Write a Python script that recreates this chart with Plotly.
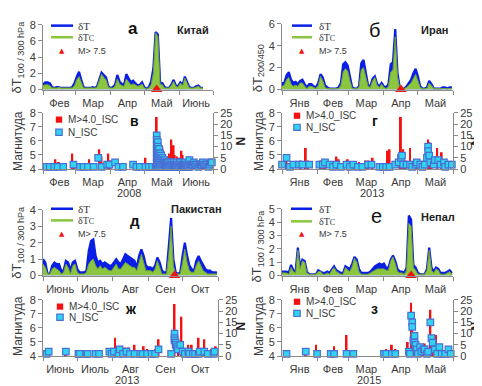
import pandas as pd
import plotly.graph_objects as go

W, H = 482, 386
BLUE = "#0a1fe6"
GREEN = "#8cc540"
GREEN_EDGE = "#6f9f3a"
RED = "#f21212"
CYAN = "#30d4f0"
CYAN_EDGE = "#4a6fd4"
AXC = "#8a8a8a"
TXT = "#3a3a3a"
FONT = "Liberation Sans, Arial, sans-serif"

# ---------------- Panel а : Китай 2008 (values every 2 days) ----------------
A_START, A_END, A_QUAKE = "2008-02-01", "2008-07-01", "2008-05-12"
A_MONTHS = ["Фев", "Мар", "Апр", "Май", "Июнь"]
A_DT = [0.6,0.9,0.9,0.8,0.3,0.2,0.3,0.3,0.2,0.2,0.2,0.2,0.2,0.3,0.8,1.6,2.2,1.2,0.3,0.2,
        0.2,0.2,0.3,0.2,0.4,1.2,2.1,1.8,1.5,0.4,0.2,0.3,0.6,1.8,1.0,0.7,0.6,1.9,1.3,0.9,
        1.1,0.8,0.5,0.6,0.9,0.3,0.1,0.3,1.0,2.6,7.1,6.8,0.9,0.8,0.3,0.2,0.2,0.6,1.2,0.5,
        0.4,0.9,0.6,1.6,0.9,0.3,0.2,0.2,0.4,0.5,0.2,0.2]
A_DTC = [0.5,0.6,0.6,0.5,0.2,0.2,0.2,0.3,0.2,0.2,0.2,0.2,0.2,0.2,0.5,1.2,1.6,0.8,0.2,0.2,
         0.2,0.2,0.2,0.2,0.3,1.0,1.9,1.5,1.2,0.3,0.2,0.2,0.4,1.3,0.7,0.5,0.4,1.3,0.9,0.6,
         0.7,0.6,0.4,0.5,0.7,0.2,0.1,0.2,0.6,2.0,7.0,6.5,0.7,0.6,0.2,0.2,0.2,0.5,1.0,0.4,
         0.3,0.8,0.5,1.4,0.7,0.2,0.2,0.2,0.3,0.4,0.2,0.2]

# ---------------- Panel б : Иран 2013 ----------------
B_START, B_END, B_QUAKE = "2013-01-01", "2013-06-01", "2013-04-16"
B_MONTHS = ["Янв", "Фев", "Мар", "Апр", "Май"]
B_DT = [0.6,0.6,1.3,1.6,0.9,0.6,0.7,0.5,0.8,0.9,0.5,0.2,0.5,0.5,0.3,0.2,0.6,1.4,1.1,0.4,
        0.2,0.1,0.1,0.1,0.1,0.2,0.6,2.3,2.5,2.2,1.3,0.2,0.1,0.1,0.3,2.4,2.7,1.6,0.4,0.3,
        1.0,1.2,0.5,0.3,0.6,0.3,0.2,0.5,2.3,2.5,5.5,1.5,0.2,0.1,0.1,0.3,0.6,0.9,1.5,1.9,
        1.2,0.3,0.1,0.1,0.2,0.8,0.5,0.1,0.1,0.1,0.1,0.2,0.2,0.1,0.2,0.2]
B_DTC = [0.3,0.4,0.9,1.1,0.5,0.3,0.4,0.3,0.6,0.6,0.3,0.1,0.3,0.3,0.2,0.1,0.4,1.2,0.8,0.2,
         0.1,0.1,0.1,0.1,0.1,0.1,0.4,1.6,1.9,1.7,0.8,0.1,0.1,0.1,0.2,1.8,2.0,1.1,0.3,0.2,
         0.8,1.1,0.4,0.2,0.5,0.2,0.1,0.3,1.6,1.8,4.8,1.2,0.1,0.1,0.1,0.2,0.4,0.6,1.0,1.4,
         0.8,0.2,0.1,0.1,0.1,0.6,0.3,0.1,0.1,0.1,0.1,0.1,0.1,0.1,0.1,0.1]

# ---------------- Panel д : Пакистан 2013 ----------------
D_START, D_END, D_QUAKE = "2013-06-01", "2013-11-01", "2013-09-24"
D_MONTHS = ["Июнь", "Июль", "Авг", "Сен", "Окт"]
D_DT = [1.0,0.8,0.1,0.1,0.6,0.8,0.7,0.7,0.3,0.3,0.9,0.8,0.3,0.8,0.9,0.4,0.2,0.2,0.2,0.3,
        1.5,2.1,2.2,1.2,0.8,0.9,0.7,0.8,0.7,0.6,0.6,0.8,1.0,0.8,0.7,1.0,1.3,1.2,1.1,1.0,
        0.9,0.5,1.2,1.6,1.2,0.6,0.5,0.5,0.4,0.6,1.1,0.8,0.3,0.2,0.2,1.8,3.5,1.0,0.2,0.1,
        0.2,1.2,2.0,1.2,0.6,0.4,0.3,0.9,1.2,0.9,0.6,0.4,0.3,0.3,0.2,0.2,0.2]
D_DTC = [0.7,0.5,0.1,0.1,0.4,0.5,0.4,0.3,0.1,0.2,0.7,0.5,0.1,0.6,0.7,0.2,0.1,0.1,0.1,0.2,
         0.7,0.9,1.0,0.6,0.4,0.6,0.4,0.5,0.4,0.3,0.3,0.5,0.7,0.4,0.4,0.6,0.8,0.7,0.6,0.5,
         0.5,0.3,0.8,1.3,0.8,0.3,0.3,0.3,0.2,0.4,0.9,0.5,0.1,0.1,0.1,1.3,3.0,0.6,0.1,0.1,
         0.1,0.8,1.6,0.8,0.3,0.2,0.2,0.6,0.9,0.6,0.3,0.2,0.1,0.1,0.1,0.1,0.1]

# ---------------- Panel е : Непал 2015 ----------------
E_START, E_END, E_QUAKE = "2015-01-01", "2015-06-01", "2015-04-25"
E_MONTHS = ["Янв", "Фев", "Мар", "Апр", "Май"]
E_DT = [0.3,0.3,0.3,0.2,0.8,0.4,0.3,2.1,0.6,1.2,1.1,0.3,0.1,0.1,0.1,0.1,0.4,0.3,0.2,0.2,
        0.3,0.2,0.5,0.7,0.4,0.3,0.2,0.2,0.7,0.6,0.5,0.9,1.4,1.2,0.5,0.2,0.2,0.2,0.2,0.3,
        0.5,0.7,0.8,0.9,0.8,0.9,0.6,0.6,1.2,1.5,1.1,0.5,0.3,0.3,0.2,0.6,4.5,4.2,0.8,0.6,
        0.2,0.1,0.1,0.1,0.5,2.1,0.6,0.3,0.6,0.5,0.2,0.2,0.2,0.3,0.4,0.2]
E_DTC = [0.2,0.2,0.2,0.1,0.6,0.3,0.2,1.9,0.5,1.1,1.0,0.2,0.1,0.1,0.1,0.1,0.3,0.3,0.1,0.1,
         0.2,0.1,0.4,0.6,0.3,0.2,0.1,0.1,0.6,0.4,0.3,0.7,1.3,1.0,0.3,0.1,0.1,0.1,0.1,0.2,
         0.3,0.4,0.5,0.5,0.5,0.5,0.4,0.4,1.1,1.4,0.9,0.3,0.2,0.2,0.1,0.4,3.9,3.7,0.6,0.4,
         0.1,0.1,0.1,0.1,0.4,1.9,0.4,0.2,0.5,0.4,0.1,0.1,0.1,0.2,0.3,0.1]

# ---------------- Panel в : ISC 2008 (day offsets from A_START) ----------------
C_BAR_DAY = [11,14,26,28,41,50,52,58,60,91,101,103,104,106,107,108,110,112,114,115,
             116,117,119,121,123,124,126,129,130,133,137,141,145,148]
C_BAR_MAG = [4.7,4.5,5.1,4.5,4.7,5.4,4.9,5.1,4.6,4.8,7.7,5.2,5.4,5.6,5.3,5.0,4.9,5.1,6.1,5.6,
             5.7,5.0,4.9,4.8,5.3,5.0,4.7,4.9,4.7,4.6,4.5,4.6,4.5,4.6]
C_N_DAY = [3,6,10,13,18,27,33,36,40,45,49,52,57,59,64,67,71,80,83,86,91,94,97,100,
           101,101,101,101,101,101,101,101,
           102,102,102,102,102,102,
           103,103,103,103,103,
           104,104,104,104,
           105,105,105,
           106,106,106,
           107,107,108,108,109,109,110,110,
           111,111,112,112,113,113,114,114,115,115,116,116,117,117,118,118,119,119,120,120,
           121,121,122,122,123,123,124,124,125,125,126,126,127,127,128,128,129,129,130,130,
           131,132,133,134,135,136,137,138,139,140,141,142,143,144,145,146,147,148,149,150]
C_N = [1,1,1,1,1,2,1,1,1,1,5,1,2,2,3,1,1,2,1,1,1,1,1,1,
       15,13,11,9,7,5,3,1,
       12,10,8,6,4,2,
       9,7,5,3,1,
       7,5,3,1,
       6,4,2,
       5,3,1,
       4,2,4,2,3,1,3,1,
       3,1,3,1,2,1,3,1,2,1,3,1,2,1,2,1,3,1,2,1,
       2,1,3,1,2,1,2,1,2,1,3,1,2,1,2,1,2,1,4,1,
       2,2,2,3,2,2,2,1,2,2,2,3,2,2,2,2,1,2,3,3]

# ---------------- Panel г : ISC 2013 Iran ----------------
G_BAR_DAY = [4,16,21,23,34,36,38,48,50,58,64,68,74,76,80,93,95,105,107,109,
             113,119,129,130,132,137,141,144]
G_BAR_MAG = [4.6,4.6,5.5,4.6,4.6,4.7,4.5,4.9,4.7,4.7,4.5,4.5,4.6,4.6,4.8,5.3,5.4,7.7,5.4,4.6,
             5.5,4.6,6.1,5.9,4.7,5.5,5.2,4.5]
G_N_DAY = [0,4,7,10,15,18,24,33,36,38,42,45,48,52,57,60,63,67,71,76,
           79,86,89,92,95,100,103,105,106,107,110,113,115,118,119,122,124,126,128,129,
           129,130,131,134,135,138,140,143,144,147,150]
G_N = [2,5,1,2,2,2,2,2,2,3,2,1,2,1,2,1,2,1,1,2,
       2,1,1,1,1,2,3,5,6,2,2,2,1,2,3,2,1,2,5,10,
       8,6,3,2,4,4,2,3,1,2,2]

# ---------------- Panel ж : ISC 2013 Pakistan ----------------
P_BAR_DAY = [20,63,65,68,72,75,80,88,91,98,101,115,118,121,122,127,130,136,141,147,151]
P_BAR_MAG = [4.1,5.3,4.5,4.6,4.6,4.6,4.8,4.7,4.5,4.5,5.2,7.7,5.0,6.8,4.6,4.8,4.8,5.3,5.2,4.5,4.7]
P_N_DAY = [3,5,20,31,32,38,39,46,49,58,60,62,66,67,70,73,76,80,85,87,
           91,95,98,101,112,115,115,115,116,116,117,118,120,122,124,127,128,131,133,136,
           137,141,144,149,150]
P_N = [1,2,2,1,1,1,1,1,1,2,1,2,1,3,1,2,1,1,1,1,
       1,1,1,3,1,10,8,7,6,5,4,3,5,2,1,2,1,1,1,1,
       2,2,1,1,2]

# ---------------- Panel з : ISC 2015 Nepal ----------------
N_BAR_DAY = [21,30,46,57,92,97,100,111,114,115,116,117,121,124,126,131,133,136,139,144]
N_BAR_MAG = [4.1,4.8,4.7,5.5,4.5,4.8,4.5,5.0,7.8,6.6,5.5,5.0,4.6,4.6,4.9,7.3,5.0,5.5,4.5,4.4]
N_N_DAY = [4,21,31,43,46,57,63,90,92,97,100,112,113,114,115,115,116,117,117,118,
           119,120,122,123,125,126,128,129,131,132,133,135,137,139,141,144,147,149]
N_N = [1,2,1,1,1,1,1,1,1,1,1,2,1,18,15,13,7,9,6,5,
       3,1,4,2,3,3,1,2,15,8,6,3,1,4,1,1,3,1]


def PX(p):
    return p / W


def PY(p):
    return 1 - p / H


def to_dates(start, days):
    return [pd.Timestamp(start) + pd.Timedelta(days=d) for d in days]


fig = go.Figure()


def add_top(dt, dtc, start, quake, xa, ya):
    d = pd.date_range(start, periods=len(dt), freq="2D")
    fig.add_trace(go.Scatter(x=d, y=dt, mode="lines", line=dict(color=BLUE, width=2.2),
                             fill="tozeroy", fillcolor=BLUE, xaxis=xa, yaxis=ya,
                             showlegend=False, hoverinfo="skip"))
    fig.add_trace(go.Scatter(x=d, y=dtc, mode="lines", line=dict(color=GREEN_EDGE, width=1),
                             fill="tozeroy", fillcolor=GREEN, xaxis=xa, yaxis=ya,
                             showlegend=False, hoverinfo="skip"))
    fig.add_trace(go.Scatter(x=[pd.Timestamp(quake)], y=[0], mode="markers",
                             marker=dict(symbol="triangle-up", size=10, color=RED),
                             cliponaxis=False, xaxis=xa, yaxis=ya, showlegend=False))


def add_bottom(bd, bm, nd, nv, start, xa, ya, ya2):
    fig.add_trace(go.Bar(x=to_dates(start, bd), y=bm, width=1.7 * 86400000,
                         marker=dict(color=RED, line=dict(width=0)),
                         xaxis=xa, yaxis=ya, showlegend=False))
    fig.add_trace(go.Scatter(x=to_dates(start, nd), y=nv, mode="markers",
                             marker=dict(symbol="square", size=6.5, color=CYAN,
                                         line=dict(color=CYAN_EDGE, width=1.2)),
                             cliponaxis=False, xaxis=xa, yaxis=ya2, showlegend=False))


add_top(A_DT, A_DTC, A_START, A_QUAKE, "x", "y")
add_top(B_DT, B_DTC, B_START, B_QUAKE, "x2", "y2")
add_bottom(C_BAR_DAY, C_BAR_MAG, C_N_DAY, C_N, A_START, "x3", "y3", "y9")
add_bottom(G_BAR_DAY, G_BAR_MAG, G_N_DAY, G_N, B_START, "x4", "y4", "y10")
add_top(D_DT, D_DTC, D_START, D_QUAKE, "x5", "y5")
add_top(E_DT, E_DTC, E_START, E_QUAKE, "x6", "y6")
add_bottom(P_BAR_DAY, P_BAR_MAG, P_N_DAY, P_N, D_START, "x7", "y7", "y11")
add_bottom(N_BAR_DAY, N_BAR_MAG, N_N_DAY, N_N, E_START, "x8", "y8", "y12")

TF = dict(family=FONT, size=11, color=TXT)


def xcfg(x0, x1, anchor, start, end, names):
    starts = pd.date_range(start, end, freq="MS")
    mids = [starts[i] + (starts[i + 1] - starts[i]) / 2 for i in range(len(starts) - 1)]
    return dict(domain=[PX(x0), PX(x1)], anchor=anchor, type="date", range=[start, end],
                tickmode="array", tickvals=mids, ticktext=names, ticks="outside", ticklen=3,
                tickcolor="rgba(0,0,0,0)", showline=True, linecolor=AXC, linewidth=1,
                showgrid=False, zeroline=False, tickfont=TF,
                minor=dict(ticks="outside", ticklen=4, tickcolor=AXC, dtick="M1",
                           tick0=start, showgrid=False))


def ycfg(ytop, ybot, anchor, rng, dtick, side="left", overlay=None):
    c = dict(domain=[PY(ybot), PY(ytop)], anchor=anchor, range=rng, dtick=dtick,
             ticks="outside", ticklen=4, tickcolor=AXC, showline=True, linecolor=AXC,
             linewidth=1, showgrid=False, zeroline=False, tickfont=TF, side=side)
    if overlay:
        c["overlaying"] = overlay
    return c


LX0, LX1, LX1B = 35, 205, 210
RX0, RX1 = 274, 445

layout = dict(
    xaxis=xcfg(LX0, LX1, "y", A_START, A_END, A_MONTHS),
    yaxis=ycfg(11, 78, "x", [0, 8], 2),
    xaxis2=xcfg(RX0, RX1, "y2", B_START, B_END, B_MONTHS),
    yaxis2=ycfg(10, 78, "x2", [0, 6], 2),
    xaxis3=xcfg(LX0, LX1, "y3", A_START, A_END, A_MONTHS),
    yaxis3=ycfg(102, 160, "x3", [4, 8], 1),
    xaxis4=xcfg(RX0, RX1, "y4", B_START, B_END, B_MONTHS),
    yaxis4=ycfg(102, 160, "x4", [4, 8], 1),
    xaxis5=xcfg(LX0, LX1B, "y5", D_START, D_END, D_MONTHS),
    yaxis5=ycfg(202, 270, "x5", [0, 4], 1),
    xaxis6=xcfg(RX0, RX1, "y6", E_START, E_END, E_MONTHS),
    yaxis6=ycfg(201, 270, "x6", [0, 5], 1),
    xaxis7=xcfg(LX0, LX1B, "y7", D_START, D_END, D_MONTHS),
    yaxis7=ycfg(295, 353, "x7", [4, 8], 1),
    xaxis8=xcfg(RX0, RX1, "y8", E_START, E_END, E_MONTHS),
    yaxis8=ycfg(295, 353, "x8", [4, 8], 1),
    yaxis9=ycfg(102, 160, "x3", [0, 25], 5, "right", "y3"),
    yaxis10=ycfg(102, 160, "x4", [0, 25], 5, "right", "y4"),
    yaxis11=ycfg(295, 353, "x7", [0, 25], 5, "right", "y7"),
    yaxis12=ycfg(295, 353, "x8", [0, 25], 5, "right", "y8"),
)

ann = []
shapes = []


def text(x, y, t, size=11, bold=False, color=TXT, angle=0, family=FONT, xanchor="center"):
    ann.append(dict(x=PX(x), y=PY(y), xref="paper", yref="paper", text=("<b>%s</b>" % t) if bold else t,
                    showarrow=False, textangle=angle, xanchor=xanchor, yanchor="middle",
                    borderpad=0, font=dict(size=size, color=color, family=family)))


# panel letters & country names
text(125, 15, "а", 17, True, "#111")
text(185, 16, "Китай", 11, True, "#222")
text(366, 17, "б", 20, False, "#111")
text(426, 17, "Иран", 11, True, "#222")
text(126, 110, "в", 14, True, "#111")
text(367, 110, "г", 14, True, "#111")
text(127, 213, "д", 15, True, "#111")
text(188, 201, "Пакистан", 11, True, "#222")
text(368, 208, "е", 20, False, "#111")
text(430, 209, "Непал", 11, True, "#222")
text(123, 304, "ж", 14, True, "#111")
text(366, 304, "з", 14, True, "#111")

# axis titles
YT = "δT<sub>100 / 300 hPa</sub>"
text(10, 45, YT, 13, angle=-90)
text(250, 56, "δT<sub>200/450</sub>", 13, angle=-90)
text(10, 236, YT, 13, angle=-90)
text(250, 240, YT, 13, angle=-90)
for (mx, my, nx) in [(10, 131, 232), (251, 131, 467), (10, 322, 232), (251, 322, 467)]:
    text(mx, my, "Магнитуда", 12, angle=-90)
    text(nx, my, "N", 12, True, "#222", angle=90)
text(121, 185, "2008", 11)
text(364, 185, "2013", 11)
text(119, 378, "2013", 11)
text(361, 378, "2015", 11)

SERIF = "Liberation Serif, Times New Roman, serif"


def top_legend(x0, x1, y1, y2, y3, tx):
    shapes.append(dict(type="line", xref="paper", yref="paper", x0=PX(x0), x1=PX(x1),
                       y0=PY(y1), y1=PY(y1), line=dict(color=BLUE, width=2.5)))
    shapes.append(dict(type="line", xref="paper", yref="paper", x0=PX(x0), x1=PX(x1),
                       y0=PY(y2), y1=PY(y2), line=dict(color=GREEN, width=2.5)))
    text(tx, y1, "δT", 11, family=SERIF, xanchor="left")
    text(tx, y2, "δT<span style='font-size:8px'>C</span>", 10, family=SERIF, xanchor="left")
    text((x0 + x1) / 2, y3, "▲", 7, color=RED, family="DejaVu Sans")
    text(tx, y3, "M> 7.5", 9, xanchor="left")


def bot_legend(x, y1, y2, tx):
    s = 3.2
    shapes.append(dict(type="rect", xref="paper", yref="paper", x0=PX(x - s), x1=PX(x + s),
                       y0=PY(y1 + s), y1=PY(y1 - s), fillcolor=RED, line=dict(width=0)))
    shapes.append(dict(type="rect", xref="paper", yref="paper", x0=PX(x - s), x1=PX(x + s),
                       y0=PY(y2 + s), y1=PY(y2 - s), fillcolor=CYAN,
                       line=dict(color=CYAN_EDGE, width=1.2)))
    text(tx, y1, "M>4.0_ISC", 10, xanchor="left")
    text(tx, y2, "N_ISC", 10, xanchor="left")


top_legend(43, 65, 12, 24, 38, 69)
top_legend(284, 304, 12, 24, 38, 310)
top_legend(43, 65, 201, 213, 227, 69)
top_legend(283, 304, 201, 214, 227, 310)
bot_legend(51, 109, 122, 59)
bot_legend(289, 105, 117, 297)
bot_legend(52, 302, 313, 60)
bot_legend(289, 297, 309, 297)

fig.update_layout(**layout)
fig.update_layout(width=W, height=H, margin=dict(l=0, r=0, t=0, b=0),
                  paper_bgcolor="white", plot_bgcolor="white", showlegend=False,
                  annotations=ann, shapes=shapes, font=dict(family=FONT, color=TXT))
fig.write_html("out.html")
